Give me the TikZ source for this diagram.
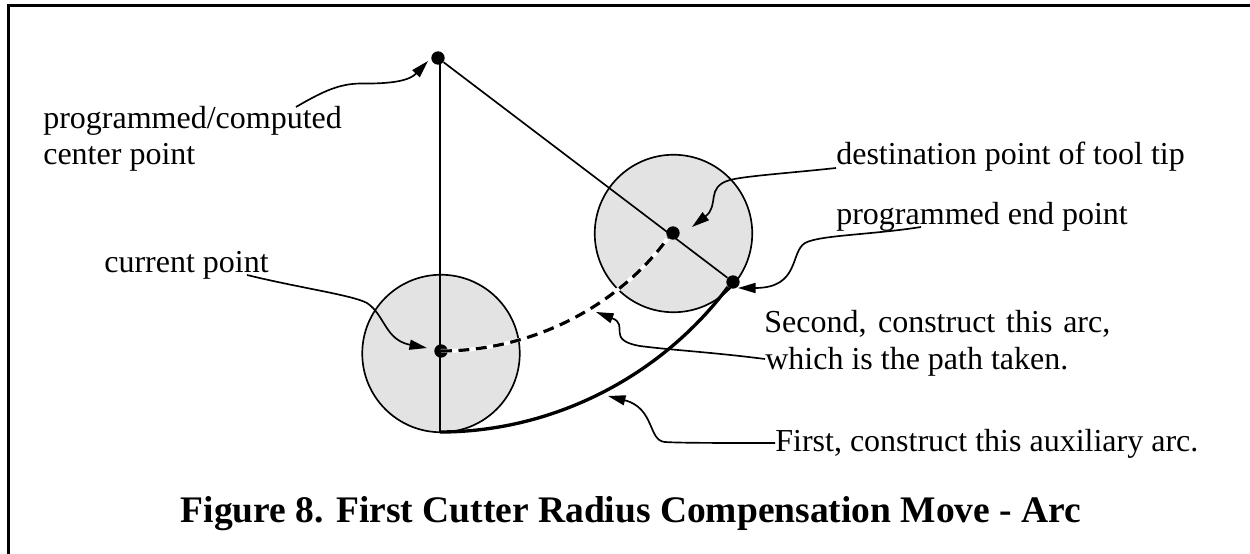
\documentclass[tikz,border=0pt]{standalone}
\usepackage{fontspec}
\setmainfont{Liberation Serif}
\usetikzlibrary{arrows.meta}

\tikzset{
  thinline/.style={line width=1pt},
  leader/.style={line width=1pt, -{Triangle[length=10.5pt,width=6pt]}},
  tooldisk/.style={circle, draw, line width=1pt, fill=black!11, minimum size=94.5pt, inner sep=0pt},
  pointdot/.style={circle, fill=black, minimum size=8pt, inner sep=0pt},
  callout/.style={anchor=base west, inner sep=0pt, font=\fontsize{19.2}{22.5}\selectfont},
}

\begin{document}
\begin{tikzpicture}[x=0.6pt, y=-0.6pt]
    \useasboundingbox (0,0) rectangle (1250,554);
    \draw[line width=1.8pt] (8.5,554) -- (8.5,6) -- (1250,6);
    % the two tool circles
    \node[tooldisk] (startdisk) at (441,353.5) {};
    \node[tooldisk] (enddisk) at (673.5,233.5) {};
    \coordinate (arcstart) at (440,432);
    % points
    \node[pointdot] (centerdot) at (438,58) {};
    \node[pointdot] (currentdot) at (441,351) {};
    \node[pointdot] (destdot) at (673,233) {};
    \node[pointdot] (enddot) at (733,282) {};
    \draw[thinline] (arcstart |- centerdot) -- (arcstart);
    \draw[thinline] (centerdot) -- (enddot);
    % arcs
    \draw[line width=2pt] (arcstart) .. controls (556,432) and (663,374) .. (enddot.south west);
    \draw[white, line width=2.4pt] (currentdot.center) .. controls (532.7,351) and (618,306) .. (destdot.south west);
    \draw[line width=1.9pt, dash pattern=on 6.5pt off 4pt] (currentdot.center) .. controls (532.7,351) and (618,306) .. (destdot.south west);
    % labels
    \node[callout] (centerlabel) at (43,129) {programmed/computed};
    \node[callout] (centerlabelb) at (43,165) {center point};
    \node[callout] (currentlabel) at (104,273) {current point};
    \node[callout] (destlabel) at (836,165) {destination point of tool tip};
    \node[callout] (endlabel) at (836,225) {programmed end point};
    \node[callout] (secondlabel) at (764,333) {\makebox[207.6pt][s]{Second, construct this arc,}};
    \node[callout] (secondlabelb) at (765,370) {which is the path taken.};
    \node[callout] (firstlabel) at (775,452) {First, construct this auxiliary arc.};
    \node[anchor=base, inner sep=0pt, font=\fontsize{22.5}{26}\selectfont\bfseries] (caption) at (631,522) {Figure 8. First Cutter Radius Compensation Move - Arc};
    % leaders
    \coordinate (centerfrom) at (296,107);
    \coordinate (centertip) at (428,61);
    \coordinate (currentfrom) at (247,275);
    \coordinate (currenttip) at (427,348);
    \coordinate (destfrom) at (836,168);
    \coordinate (desttip) at (692,227);
    \coordinate (endfrom) at (921,227);
    \coordinate (endtip) at (738,288);
    \coordinate (secondfrom) at (765,359);
    \coordinate (secondtip) at (596,312);
    \coordinate (firstfrom) at (775,443);
    \coordinate (firsttip) at (608,396);
    \draw[leader] (centerfrom) .. controls (325,90) and (340,84) .. (360,83.5) .. controls (395,84) and (410,80) .. (centertip);
    \draw[leader] (currentfrom) .. controls (300,288) and (352,295) .. (367,303) .. controls (385,315) and (385,340) .. (currenttip);
    \draw[leader] (destfrom) .. controls (790,173) and (745,176) .. (730,180) .. controls (705,187) and (720,205) .. (desttip);
    \draw[leader] (endfrom) .. controls (870,235) and (820,235) .. (805,243) .. controls (790,252) and (800,288) .. (endtip);
    \draw[leader] (secondfrom) .. controls (710,352) and (670,350) .. (640,346) .. controls (605,340) and (630,325) .. (secondtip);
    \draw[leader] (firstfrom) .. controls (720,443) and (680,443) .. (665,442) .. controls (648,441) and (655,408) .. (firsttip);
\end{tikzpicture}
\end{document}
